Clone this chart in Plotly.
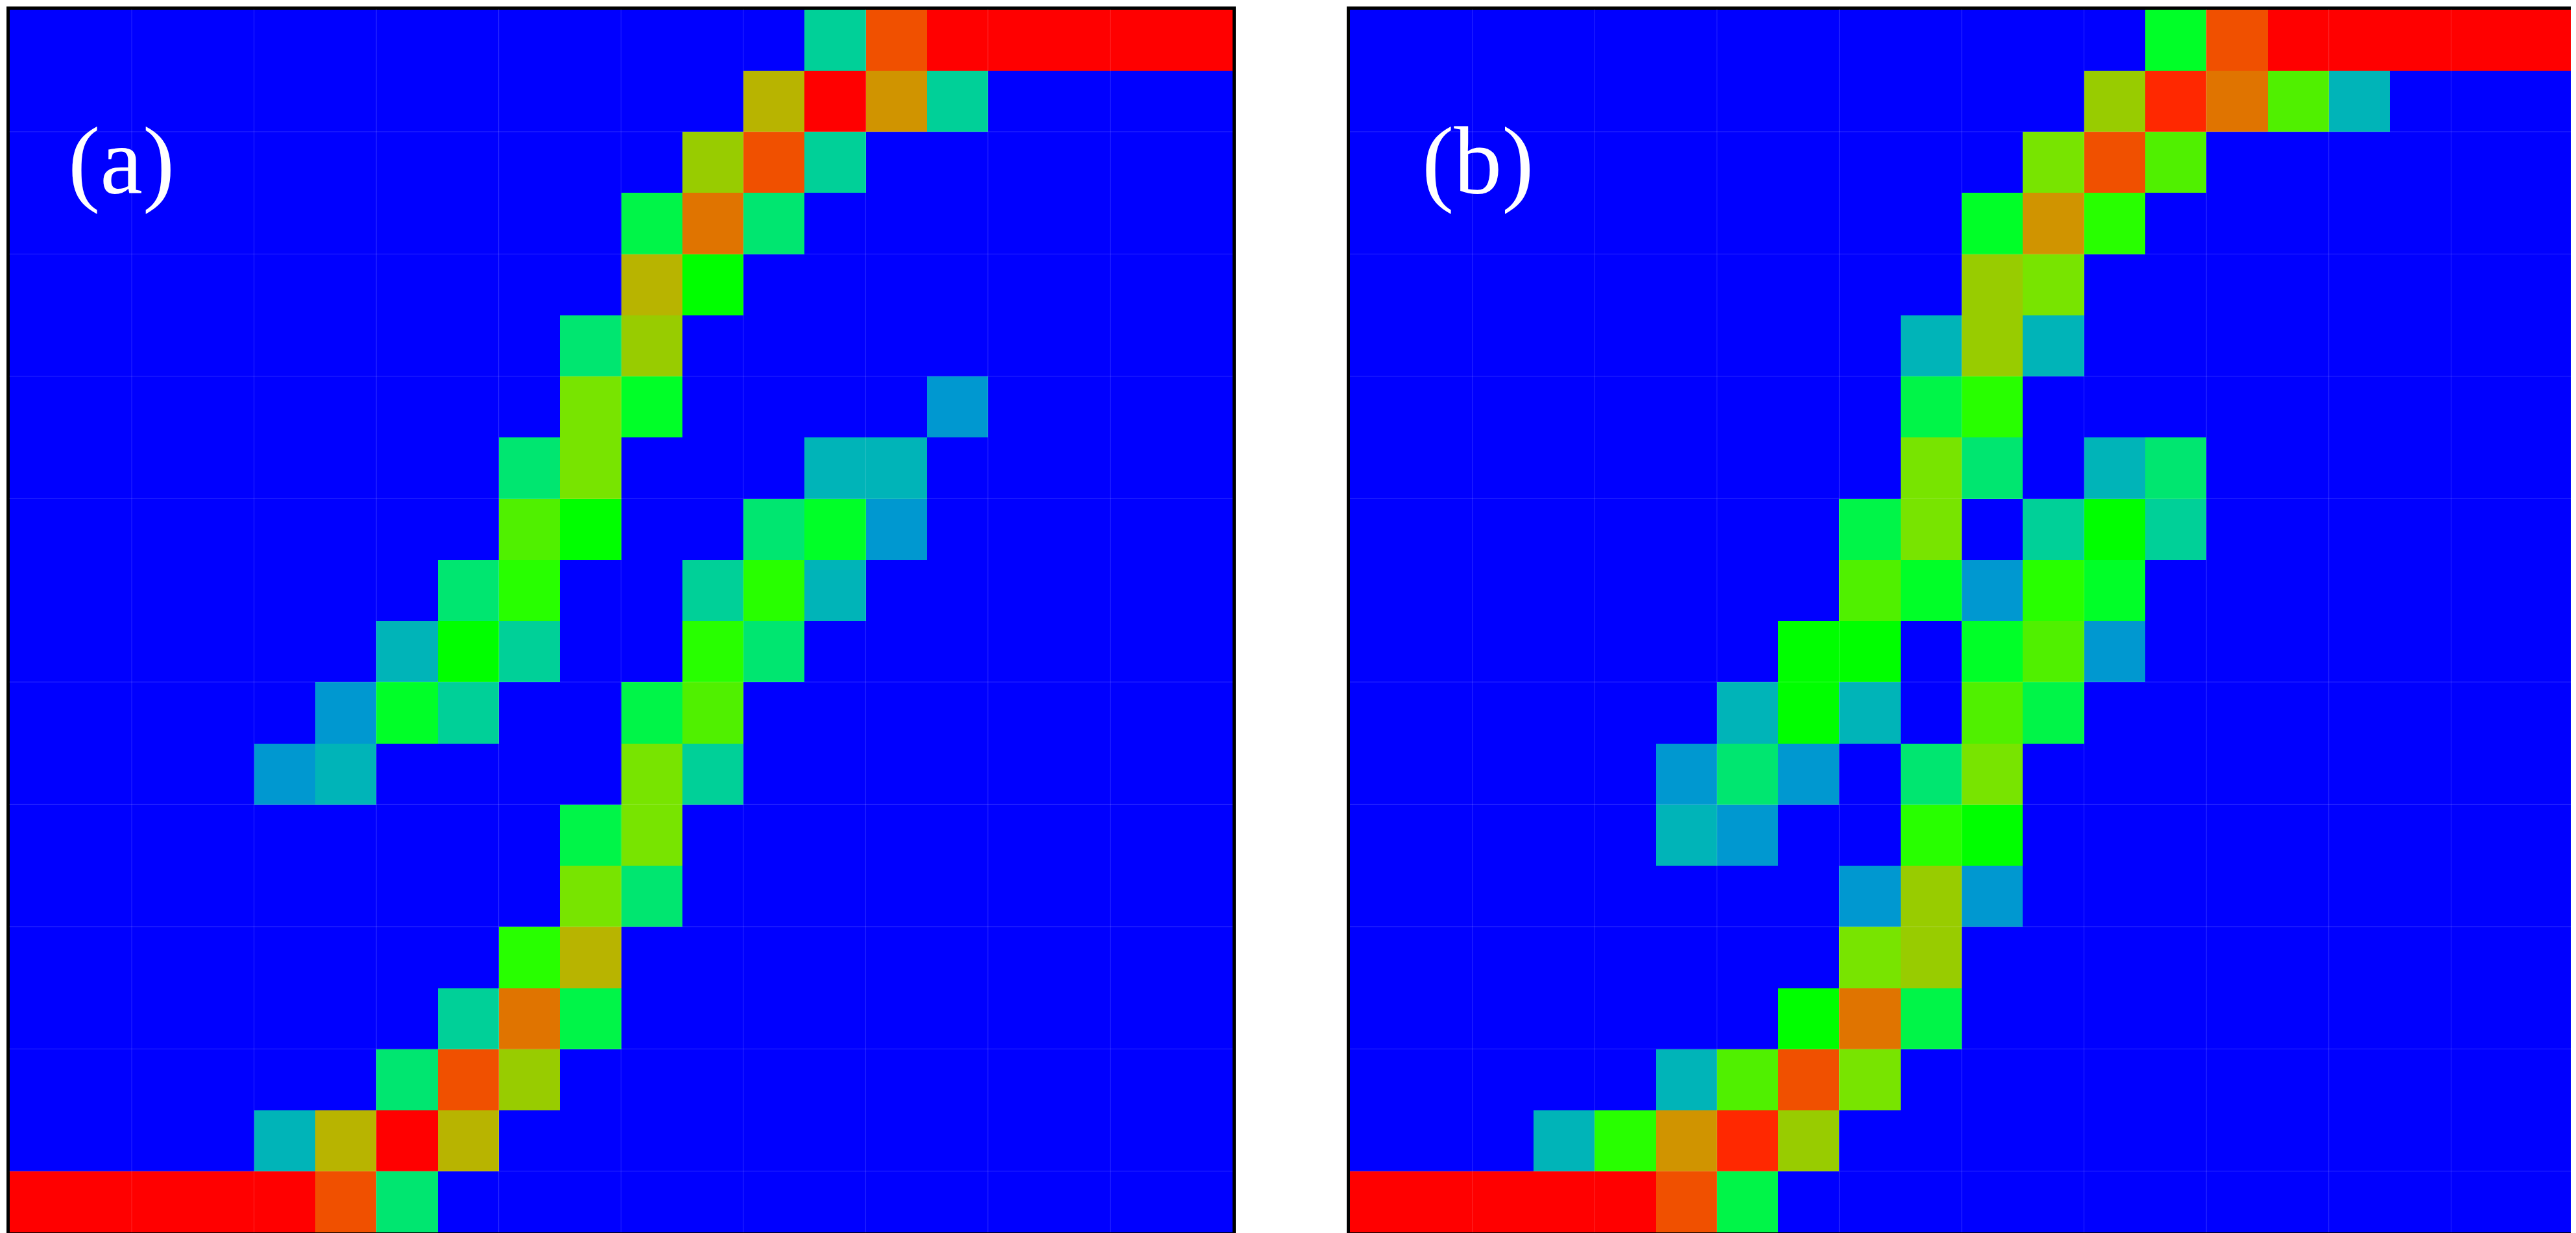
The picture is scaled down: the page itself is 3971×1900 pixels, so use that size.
import plotly.graph_objects as go

# colour levels 0..17 (blue -> teal -> green -> olive -> red)
level_colors = [
    "#0000FF", "#0098D0", "#00B4B8", "#00D098", "#00E670", "#00F548",
    "#00FF28", "#00FF00", "#28FF00", "#50F000", "#78E400", "#98CC00",
    "#B8B400", "#D09400", "#E07400", "#F05000", "#FF2800", "#FF0000",
]

# panel (a): 20 rows (top to bottom) x 20 columns, colour level per cell
grid_a = [
    [0, 0, 0, 0, 0, 0, 0, 0, 0, 0, 0, 0, 0, 3, 15, 17, 17, 17, 17, 17],
    [0, 0, 0, 0, 0, 0, 0, 0, 0, 0, 0, 0, 12, 17, 13, 3, 0, 0, 0, 0],
    [0, 0, 0, 0, 0, 0, 0, 0, 0, 0, 0, 11, 15, 3, 0, 0, 0, 0, 0, 0],
    [0, 0, 0, 0, 0, 0, 0, 0, 0, 0, 5, 14, 4, 0, 0, 0, 0, 0, 0, 0],
    [0, 0, 0, 0, 0, 0, 0, 0, 0, 0, 12, 7, 0, 0, 0, 0, 0, 0, 0, 0],
    [0, 0, 0, 0, 0, 0, 0, 0, 0, 4, 11, 0, 0, 0, 0, 0, 0, 0, 0, 0],
    [0, 0, 0, 0, 0, 0, 0, 0, 0, 10, 6, 0, 0, 0, 0, 1, 0, 0, 0, 0],
    [0, 0, 0, 0, 0, 0, 0, 0, 4, 10, 0, 0, 0, 2, 2, 0, 0, 0, 0, 0],
    [0, 0, 0, 0, 0, 0, 0, 0, 9, 7, 0, 0, 4, 6, 1, 0, 0, 0, 0, 0],
    [0, 0, 0, 0, 0, 0, 0, 4, 8, 0, 0, 3, 8, 2, 0, 0, 0, 0, 0, 0],
    [0, 0, 0, 0, 0, 0, 2, 7, 3, 0, 0, 8, 4, 0, 0, 0, 0, 0, 0, 0],
    [0, 0, 0, 0, 0, 1, 6, 3, 0, 0, 5, 9, 0, 0, 0, 0, 0, 0, 0, 0],
    [0, 0, 0, 0, 1, 2, 0, 0, 0, 0, 10, 3, 0, 0, 0, 0, 0, 0, 0, 0],
    [0, 0, 0, 0, 0, 0, 0, 0, 0, 5, 10, 0, 0, 0, 0, 0, 0, 0, 0, 0],
    [0, 0, 0, 0, 0, 0, 0, 0, 0, 10, 4, 0, 0, 0, 0, 0, 0, 0, 0, 0],
    [0, 0, 0, 0, 0, 0, 0, 0, 8, 12, 0, 0, 0, 0, 0, 0, 0, 0, 0, 0],
    [0, 0, 0, 0, 0, 0, 0, 3, 14, 5, 0, 0, 0, 0, 0, 0, 0, 0, 0, 0],
    [0, 0, 0, 0, 0, 0, 4, 15, 11, 0, 0, 0, 0, 0, 0, 0, 0, 0, 0, 0],
    [0, 0, 0, 0, 2, 12, 17, 12, 0, 0, 0, 0, 0, 0, 0, 0, 0, 0, 0, 0],
    [17, 17, 17, 17, 17, 15, 4, 0, 0, 0, 0, 0, 0, 0, 0, 0, 0, 0, 0, 0],
]

# panel (b)
grid_b = [
    [0, 0, 0, 0, 0, 0, 0, 0, 0, 0, 0, 0, 0, 6, 15, 17, 17, 17, 17, 17],
    [0, 0, 0, 0, 0, 0, 0, 0, 0, 0, 0, 0, 11, 16, 14, 9, 2, 0, 0, 0],
    [0, 0, 0, 0, 0, 0, 0, 0, 0, 0, 0, 10, 15, 9, 0, 0, 0, 0, 0, 0],
    [0, 0, 0, 0, 0, 0, 0, 0, 0, 0, 6, 13, 8, 0, 0, 0, 0, 0, 0, 0],
    [0, 0, 0, 0, 0, 0, 0, 0, 0, 0, 11, 10, 0, 0, 0, 0, 0, 0, 0, 0],
    [0, 0, 0, 0, 0, 0, 0, 0, 0, 2, 11, 2, 0, 0, 0, 0, 0, 0, 0, 0],
    [0, 0, 0, 0, 0, 0, 0, 0, 0, 5, 8, 0, 0, 0, 0, 0, 0, 0, 0, 0],
    [0, 0, 0, 0, 0, 0, 0, 0, 0, 10, 4, 0, 2, 4, 0, 0, 0, 0, 0, 0],
    [0, 0, 0, 0, 0, 0, 0, 0, 5, 10, 0, 3, 7, 3, 0, 0, 0, 0, 0, 0],
    [0, 0, 0, 0, 0, 0, 0, 0, 9, 6, 1, 8, 6, 0, 0, 0, 0, 0, 0, 0],
    [0, 0, 0, 0, 0, 0, 0, 7, 7, 0, 6, 9, 1, 0, 0, 0, 0, 0, 0, 0],
    [0, 0, 0, 0, 0, 0, 2, 7, 2, 0, 9, 5, 0, 0, 0, 0, 0, 0, 0, 0],
    [0, 0, 0, 0, 0, 1, 4, 1, 0, 4, 10, 0, 0, 0, 0, 0, 0, 0, 0, 0],
    [0, 0, 0, 0, 0, 2, 1, 0, 0, 8, 7, 0, 0, 0, 0, 0, 0, 0, 0, 0],
    [0, 0, 0, 0, 0, 0, 0, 0, 1, 11, 1, 0, 0, 0, 0, 0, 0, 0, 0, 0],
    [0, 0, 0, 0, 0, 0, 0, 0, 10, 11, 0, 0, 0, 0, 0, 0, 0, 0, 0, 0],
    [0, 0, 0, 0, 0, 0, 0, 7, 14, 5, 0, 0, 0, 0, 0, 0, 0, 0, 0, 0],
    [0, 0, 0, 0, 0, 2, 9, 15, 10, 0, 0, 0, 0, 0, 0, 0, 0, 0, 0, 0],
    [0, 0, 0, 2, 8, 13, 16, 11, 0, 0, 0, 0, 0, 0, 0, 0, 0, 0, 0, 0],
    [17, 17, 17, 17, 17, 15, 5, 0, 0, 0, 0, 0, 0, 0, 0, 0, 0, 0, 0, 0],
]

panel_labels = ["(a)", "(b)"]

# faint grid lines (cell-boundary indices)
grid_cols = [2, 4, 6, 8, 10, 12, 14, 16, 18]
grid_rows = [2, 4, 6, 8, 11, 13, 15, 17, 19]

n = len(level_colors) - 1
colorscale = [[i / n, c] for i, c in enumerate(level_colors)]

W, H = 3971, 1900
x_domains = [[6.5 / W, 1892 / W], [2073 / W, 3959 / W]]
y_domain = [1 - 1891 / H, 1 - 6.5 / H]

fig = go.Figure()
for i, z in enumerate([grid_a, grid_b]):
    sfx = "" if i == 0 else str(i + 1)
    fig.add_trace(
        go.Heatmap(
            z=z,
            zmin=0,
            zmax=n,
            colorscale=colorscale,
            showscale=False,
            hoverinfo="skip",
            xaxis="x" + sfx,
            yaxis="y" + sfx,
        )
    )

axis_style = dict(
    showticklabels=False,
    ticks="",
    showgrid=False,
    zeroline=False,
    showline=True,
    linecolor="black",
    linewidth=5,
    mirror=True,
)

layout = dict(
    width=W,
    height=H,
    margin=dict(l=0, r=0, t=0, b=0),
    paper_bgcolor="white",
    plot_bgcolor="#0000FF",
    showlegend=False,
)
shapes = []
annotations = []
label_pos = [(179 / W, 1 - 240 / H), (2270 / W, 1 - 240 / H)]
for i in range(2):
    sfx = "" if i == 0 else str(i + 1)
    layout["xaxis" + sfx] = dict(
        axis_style, domain=x_domains[i], range=[-0.5, 19.5], anchor="y" + sfx
    )
    layout["yaxis" + sfx] = dict(
        axis_style, domain=y_domain, range=[19.5, -0.5], anchor="x" + sfx
    )
    for k in grid_cols:
        shapes.append(
            dict(
                type="line", layer="above", xref="x" + sfx, yref="y" + sfx + " domain",
                x0=k - 0.5, x1=k - 0.5, y0=0, y1=1,
                line=dict(color="rgba(255,255,255,0.16)", width=1),
            )
        )
    for k in grid_rows:
        shapes.append(
            dict(
                type="line", layer="above", xref="x" + sfx + " domain", yref="y" + sfx,
                x0=0, x1=1, y0=k - 0.5, y1=k - 0.5,
                line=dict(color="rgba(255,255,255,0.16)", width=1),
            )
        )
    annotations.append(
        dict(
            text=panel_labels[i],
            xref="paper", yref="paper",
            x=label_pos[i][0], y=label_pos[i][1],
            xanchor="center", yanchor="middle",
            showarrow=False,
            font=dict(family="Liberation Serif", size=148, color="white"),
        )
    )

fig.update_layout(layout, shapes=shapes, annotations=annotations)
fig.write_html("out.html")
